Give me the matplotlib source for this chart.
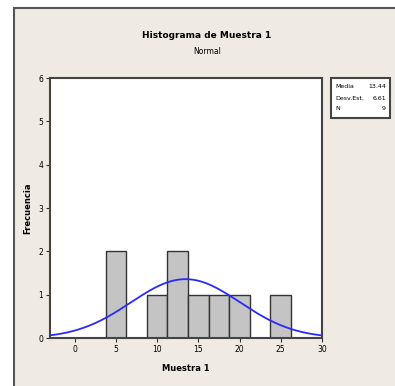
import numpy as np
import matplotlib
matplotlib.use("Agg")
import matplotlib.pyplot as plt
from matplotlib.patches import Rectangle

# datos del histograma (centro de clase y frecuencia)
centros = [5, 10, 12.5, 15, 17.5, 20, 25]
frecuencias = [2, 1, 2, 1, 1, 1, 1]
ancho_clase = 2.5
media = 13.44
desv_est = 6.61
n = 9

x_ticks = [0, 5, 10, 15, 20, 25, 30]
y_ticks = [0, 1, 2, 3, 4, 5, 6]

fondo = '#efebe2'

fig = plt.figure(figsize=(3.95, 3.86), dpi=100)
fig.patch.set_facecolor('white')

# marco exterior del grafico
marco = Rectangle((14 / 395, -0.05), 1.1, 1 - 8 / 386 + 0.05, transform=fig.transFigure,
                  facecolor=fondo, edgecolor='#555555', linewidth=1.5, zorder=-1)
fig.patches.append(marco)

ax = fig.add_axes([50 / 395, 1 - 338 / 386, 272 / 395, 260 / 386])
ax.set_facecolor('white')

ax.bar(centros, frecuencias, width=ancho_clase, color='#c4c4c4',
       edgecolor='#333333', linewidth=1.0, zorder=2)

# curva normal ajustada
xs = np.linspace(-3, 30, 300)
ys = n * ancho_clase / (desv_est * np.sqrt(2 * np.pi)) * np.exp(-0.5 * ((xs - media) / desv_est) ** 2)
ax.plot(xs, ys, color='#2a2aff', linewidth=1.3, zorder=3)

ax.set_xlim(-3, 30)
ax.set_ylim(0, 6)
ax.set_xticks(x_ticks)
ax.set_yticks(y_ticks)
ax.tick_params(axis='both', direction='out', length=3, width=0.8, labelsize=5.5,
               color='#333333', pad=2)
for s in ax.spines.values():
    s.set_color('#444444')
    s.set_linewidth(1.5)

ax.set_xlabel('Muestra 1', fontsize=6, fontweight='bold', labelpad=7)
ax.set_ylabel('Frecuencia', fontsize=6, fontweight='bold', labelpad=4)

fig.text(207 / 395, 1 - 36 / 386, 'Histograma de Muestra 1', ha='center', va='center',
         fontsize=6.5, fontweight='bold')
fig.text(207 / 395, 1 - 52 / 386, 'Normal', ha='center', va='center', fontsize=5.5)

# cuadro de estadisticos
caja = Rectangle((331 / 395, 1 - 118 / 386), 59 / 395, 40 / 386, transform=fig.transFigure,
                 facecolor='white', edgecolor='#444444', linewidth=1.5, zorder=5)
fig.patches.append(caja)
etiquetas = ['Media', 'Desv.Est.', 'N']
valores = ['13.44', '6.61', '9']
for i, (e, v) in enumerate(zip(etiquetas, valores)):
    y = 1 - (87 + i * 11) / 386
    fig.text(335 / 395, y, e, fontsize=4.5, va='center', ha='left', zorder=6)
    fig.text(386 / 395, y, v, fontsize=4.5, va='center', ha='right', zorder=6)

fig.savefig('out.png', dpi=100, facecolor=fig.get_facecolor())
